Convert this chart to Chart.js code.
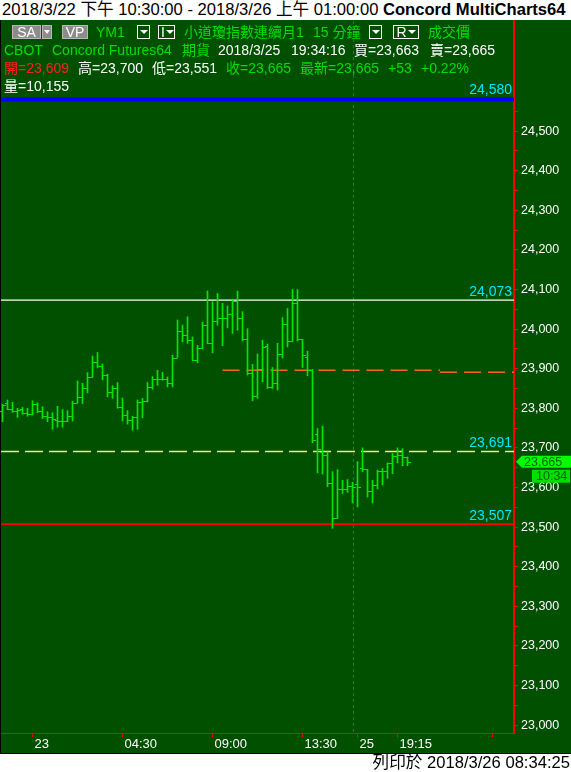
<!DOCTYPE html>
<html>
<head>
<meta charset="utf-8">
<script src="https://cdn.jsdelivr.net/npm/chart.js@4.4.0/dist/chart.umd.min.js"></script>
<style>
  html, body { margin: 0; padding: 0; background: #fff; }
  body { width: 571px; height: 772px; position: relative; overflow: hidden;
         font-family: "Liberation Sans", Arial, "Noto Sans CJK TC", sans-serif; }
  #title { position: absolute; left: 2px; top: 0; height: 20px; line-height: 20px;
           font-size: 16.6px; color: #000; white-space: nowrap; }
  #title b { font-weight: bold; }
  #wrap { position: absolute; left: 0; top: 20px; width: 571px; height: 734px; }
  #footer { position: absolute; right: 1px; top: 754px; height: 18px; line-height: 18px;
            font-size: 16.6px; color: #000; white-space: nowrap; }
  .hd { position: absolute; font-size: 14px; line-height: 18px; white-space: nowrap; z-index: 2; }
  .g { color: #00dd00; }
  .w { color: #ffffff; }
  .r { color: #ff2020; }
  .btn { position: absolute; top: 25px; height: 14px; box-sizing: border-box; z-index: 2;
         font-size: 14px; line-height: 13px; text-align: center; color: #fff; }
  .gray { background: #8c8c8c; border: 1px solid #b8b8b8; }
  .out { border: 1px solid #ffffff; background: #005000; }
  .tri { display: inline-block; width: 0; height: 0; border-left: 4px solid transparent;
         border-right: 4px solid transparent; border-top: 4px solid #fff; vertical-align: middle;
         margin-top: -2px; }
</style>
</head>
<body>
<div id="title">2018/3/22 下午 10:30:00 - 2018/3/26 上午 01:00:00 <b>Concord MultiCharts64</b></div>
<div id="wrap"><canvas id="c" width="571" height="734"></canvas></div>

<!-- toolbar row -->
<div class="btn gray" style="left:12px;width:29px;">SA</div>
<div class="btn gray" style="left:42px;width:10px;"><span class="tri" style="border-left-width:3px;border-right-width:3px;"></span></div>
<div class="btn gray" style="left:62px;width:26px;">VP</div>
<div class="hd g" style="left:96px;top:23px;">YM1</div>
<div class="btn out" style="left:137px;width:13px;"><span class="tri"></span></div>
<div class="btn out" style="left:158px;width:17px;text-align:left;padding-left:2px;">I<span class="tri" style="margin-left:1px;"></span></div>
<div class="hd g" style="left:184px;top:23px;">小道瓊指數連續月1</div>
<div class="hd g" style="left:313px;top:23px;">15 分鐘</div>
<div class="btn out" style="left:369px;width:13px;"><span class="tri"></span></div>
<div class="btn out" style="left:393px;width:26px;">R<span class="tri" style="margin-left:1px;"></span></div>
<div class="hd g" style="left:428px;top:23px;">成交價</div>

<!-- quote rows -->
<div class="hd g" style="left:4px;top:41px;">CBOT</div>
<div class="hd g" style="left:52px;top:41px;">Concord Futures64</div>
<div class="hd g" style="left:182px;top:41px;">期貨</div>
<div class="hd w" style="left:218px;top:41px;">2018/3/25</div>
<div class="hd w" style="left:291px;top:41px;">19:34:16</div>
<div class="hd w" style="left:354px;top:41px;">買=23,663</div>
<div class="hd w" style="left:430px;top:41px;">賣=23,665</div>

<div class="hd r" style="left:4px;top:59px;">開=23,609</div>
<div class="hd w" style="left:78px;top:59px;">高=23,700</div>
<div class="hd w" style="left:152px;top:59px;">低=23,551</div>
<div class="hd g" style="left:226px;top:59px;">收=23,665</div>
<div class="hd g" style="left:300px;top:59px;">最新=23,665</div>
<div class="hd g" style="left:388px;top:59px;">+53</div>
<div class="hd g" style="left:421px;top:59px;">+0.22%</div>

<div class="hd w" style="left:4px;top:77px;">量=10,155</div>

<div id="footer">列印於 2018/3/26 08:34:25</div>

<script>
// YM1 15-minute bars, 2018/3/22 22:30 through 2018/3/25 19:45
const opens = [
  23793,23814,23798,23792,23798,23789,23785,23811,23793,23780,
  23777,23770,23768,23769,23781,23814,23828,23850,23878,23916,
  23906,23884,23840,23850,23804,23783,23770,23777,23815,23818,
  23854,23873,23874,23875,23865,23928,23994,23985,23972,23923,
  23951,24010,23964,24020,24029,24029,24038,24071,24027,23976,
  23890,23830,23900,23957,23853,23865,23938,24014,23970,24067,
  23974,23929,23896,23735,23690,23682,23612,23522,23595,23597,
  23605,23609,23648,23646,23592,23606,23641,23642,23661,23680,
  23682,23677
];
const highs = [
  23810,23821,23815,23800,23802,23800,23819,23814,23804,23791,
  23789,23805,23797,23794,23818,23869,23863,23890,23932,23941,
  23912,23886,23857,23865,23826,23794,23780,23821,23825,23865,
  23880,23896,23891,23879,23934,24023,24010,24031,23980,23959,
  24017,24096,24069,24090,24065,24058,24073,24096,24044,24001,
  23911,23937,23972,23962,23903,23964,24029,24052,24100,24100,
  23974,23944,23898,23749,23755,23690,23640,23645,23618,23620,
  23613,23665,23700,23646,23618,23644,23648,23662,23686,23700,
  23698,23677
];
const lows = [
  23766,23797,23790,23777,23785,23780,23783,23789,23774,23766,
  23747,23752,23752,23766,23768,23814,23812,23839,23878,23902,
  23872,23829,23825,23800,23768,23760,23745,23747,23776,23816,
  23848,23858,23871,23854,23854,23928,23968,23964,23923,23915,
  23951,23964,23940,24010,23958,24003,23989,23997,23970,23884,
  23819,23825,23867,23850,23850,23846,23927,23955,23968,23970,
  23903,23882,23713,23637,23634,23602,23497,23522,23585,23588,
  23561,23551,23640,23576,23561,23597,23606,23623,23635,23662,
  23655,23655
];
const closes = [
  23808,23798,23792,23795,23789,23785,23811,23793,23780,23777,
  23772,23768,23769,23781,23814,23828,23850,23878,23916,23906,
  23884,23840,23850,23804,23783,23770,23777,23815,23818,23854,
  23873,23874,23875,23865,23928,23994,23985,23972,23923,23951,
  24010,23964,24020,24029,24029,24038,24071,24027,23976,23890,
  23830,23900,23954,23853,23865,23938,24014,23970,24067,23974,
  23934,23896,23721,23698,23682,23612,23522,23595,23597,23605,
  23600,23600,23646,23592,23606,23641,23642,23661,23680,23682,
  23677,23665
];

// time axis: bar index of each labelled tick
const timeTickIndex  = [6, 24, 42, 60, 71, 79, 98];
const timeTickLabels = ['23', '04:30', '09:00', '13:30', '25', '19:15', ''];

// price axis: labelled every 100, minor marks every 50
const priceTickFirst = 23000;
const priceTickLast  = 24550;
const priceTickStep  = 50;
const priceLabelStep = 100;

// reference price levels
const upperLevel   = 24580;
const priorHigh    = 24073;
const midLevel     = 23691;
const priorLow     = 23507;
const pivotLevels  = [23896, 23891];
const pivotStarts  = [44, 87.5];
const lastPrice    = 23665;
const barCountdown = '10:34';
const sessionBreak = 70;

const FONT = '"Liberation Sans", Arial, "Noto Sans CJK TC", sans-serif';
const BG = '#005000';
const BAR = '#00e600';
const fmt = v => Math.round(v).toLocaleString('en-US');

const backdrop = {
  id: 'backdrop',
  beforeDraw(chart) {
    const { ctx, width, height } = chart;
    ctx.save();
    ctx.fillStyle = BG;
    ctx.fillRect(0, 0, width, height);
    ctx.fillStyle = '#000';
    ctx.fillRect(0, 0, 1, height);
    ctx.fillRect(0, height - 1, width, 1);
    ctx.restore();
  }
};

const levels = {
  id: 'levels',
  beforeDatasetsDraw(chart) {
    const { ctx, chartArea: a, scales: { x, y } } = chart;
    ctx.save();
    const line = (v, color, w, dash) => {
      const py = y.getPixelForValue(v);
      ctx.strokeStyle = color;
      ctx.lineWidth = w;
      ctx.setLineDash(dash || []);
      ctx.beginPath();
      ctx.moveTo(a.left, py);
      ctx.lineTo(a.right, py);
      ctx.stroke();
    };
    // session separator
    const sx = Math.round(x.getPixelForValue(sessionBreak)) + 0.5;
    ctx.strokeStyle = '#009000';
    ctx.lineWidth = 1;
    ctx.setLineDash([3, 3]);
    ctx.beginPath();
    ctx.moveTo(sx, a.top);
    ctx.lineTo(sx, a.bottom);
    ctx.stroke();

    line(upperLevel, '#0000ff', 4);
    line(priorHigh, '#ffffff', 1.3);
    line(midLevel, '#f4f070', 1.5, [18, 6]);
    line(priorLow, '#ff0000', 2);
    for (let k = 0; k < pivotLevels.length; k++) {
      const x0 = x.getPixelForValue(pivotStarts[k]);
      const py = y.getPixelForValue(pivotLevels[k]);
      const x1 = k + 1 < pivotLevels.length ? x.getPixelForValue(pivotStarts[k + 1]) : a.right;
      ctx.strokeStyle = '#ff6020';
      ctx.lineWidth = 1.5;
      ctx.setLineDash([17, 7]);
      ctx.beginPath();
      ctx.moveTo(x0, py);
      ctx.lineTo(x1, py);
      ctx.stroke();
    }
    ctx.restore();
  },
  afterDatasetsDraw(chart) {
    const { ctx, chartArea: a, scales: { x, y } } = chart;
    ctx.save();
    // open / close ticks of each bar
    ctx.strokeStyle = BAR;
    ctx.lineWidth = 1;
    ctx.setLineDash([]);
    ctx.beginPath();
    for (let i = 0; i < closes.length; i++) {
      const px = x.getPixelForValue(i);
      const yo = Math.round(y.getPixelForValue(opens[i])) + 0.5;
      const yc = Math.round(y.getPixelForValue(closes[i])) + 0.5;
      ctx.moveTo(px - 2.5, yo); ctx.lineTo(px, yo);
      ctx.moveTo(px - 0.5, yc); ctx.lineTo(px + 3.5, yc);
    }
    ctx.stroke();

    // level captions
    ctx.fillStyle = '#00e5ff';
    ctx.font = '14px ' + FONT;
    ctx.textAlign = 'right';
    ctx.textBaseline = 'bottom';
    [upperLevel, priorHigh, midLevel, priorLow].forEach(v => {
      const off = v === upperLevel ? 1 : 0;
      ctx.fillText(fmt(v), a.right - 2, y.getPixelForValue(v) - 1 - off);
    });
    ctx.restore();
  },
  afterDraw(chart) {
    const { ctx, chartArea: a, scales: { y } } = chart;
    const py = y.getPixelForValue(lastPrice);
    ctx.save();
    ctx.fillStyle = '#00ff00';
    ctx.beginPath();
    ctx.moveTo(a.right + 2, py);
    ctx.lineTo(a.right + 8, py - 6);
    ctx.lineTo(chart.width, py - 6);
    ctx.lineTo(chart.width, py + 6);
    ctx.lineTo(a.right + 8, py + 6);
    ctx.closePath();
    ctx.fill();
    ctx.fillStyle = '#00e000';
    ctx.fillRect(a.right + 18, py + 8, 38, 13);
    ctx.fillStyle = '#006000';
    ctx.font = '12.5px ' + FONT;
    ctx.textAlign = 'left';
    ctx.textBaseline = 'middle';
    ctx.fillText(fmt(lastPrice), a.right + 10, py + 0.5);
    ctx.fillText(barCountdown, a.right + 22, py + 15);
    ctx.restore();
  }
};

const noEdgePadding = s => { s.paddingTop = 0; s.paddingBottom = 0; s.paddingLeft = 0; s.paddingRight = 0; };

new Chart(document.getElementById('c'), {
  type: 'bar',
  data: {
    datasets: [{
      label: 'YM1',
      data: lows.map((l, i) => ({ x: i, y: [l, highs[i]] })),
      backgroundColor: BAR,
      borderWidth: 0,
      barThickness: 1,
      grouped: false
    }]
  },
  options: {
    responsive: false,
    devicePixelRatio: 1,
    animation: false,
    events: [],
    layout: { padding: { left: 1, top: 1, right: 0, bottom: 2 } },
    plugins: { legend: { display: false }, tooltip: { enabled: false }, title: { display: false } },
    scales: {
      x: {
        type: 'linear',
        min: -0.3,
        max: 102.3,
        offset: false,
        afterBuildTicks: s => { s.ticks = timeTickIndex.map(v => ({ value: v })); },
        afterFit: s => { s.height = 19; noEdgePadding(s); },
        grid: { display: true, drawOnChartArea: false, offset: false, color: '#ff0000', tickLength: 4, lineWidth: 1 },
        border: { display: true, color: '#ff0000', width: 1 },
        ticks: {
          autoSkip: false,
          maxRotation: 0,
          align: 'start',
          labelOffset: 2,
          padding: 0,
          color: '#ffffff',
          font: { size: 13, family: FONT },
          callback: (v, i) => timeTickLabels[i]
        }
      },
      y: {
        type: 'linear',
        position: 'right',
        min: 22980,
        max: 24778,
        beginAtZero: false,
        afterBuildTicks: s => {
          const t = [];
          for (let v = priceTickFirst; v <= priceTickLast; v += priceTickStep) t.push({ value: v });
          s.ticks = t;
        },
        afterFit: s => { s.width = 57; noEdgePadding(s); },
        grid: { display: true, drawOnChartArea: false, color: '#ff0000', tickLength: 4, lineWidth: 1 },
        border: { display: true, color: '#ff0000', width: 2 },
        ticks: {
          autoSkip: false,
          padding: 3,
          color: '#ffffff',
          font: { size: 12.5, family: FONT },
          callback: v => (v % priceLabelStep === 0 ? fmt(v) : '')
        }
      }
    }
  },
  plugins: [backdrop, levels]
});
</script>
</body>
</html>
